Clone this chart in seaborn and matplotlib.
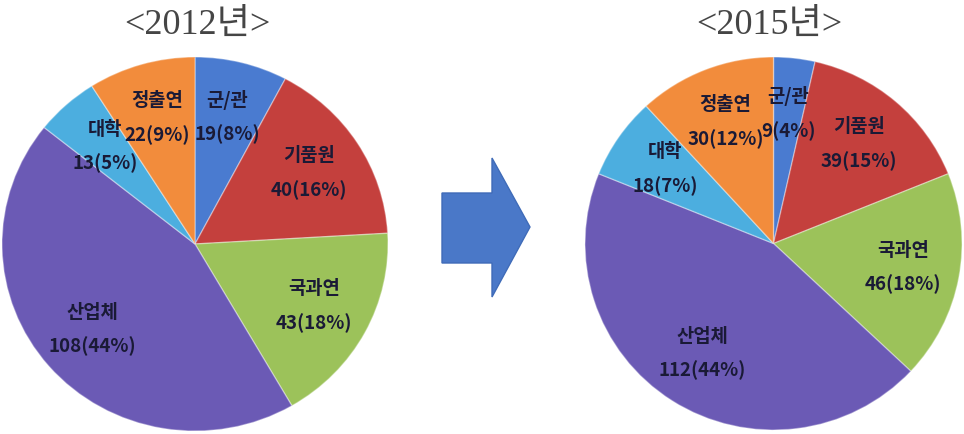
import matplotlib
matplotlib.use("Agg")
import matplotlib.pyplot as plt
import seaborn as sns
import numpy as np
from matplotlib.patches import Polygon

sns.set_theme(style="white")
plt.rcParams['font.family'] = ['Noto Sans CJK KR', 'DejaVu Sans']

categories = ["군/관", "기품원", "국과연", "산업체", "대학", "정출연"]
values_2012 = [19, 40, 43, 108, 13, 22]
values_2015 = [9, 39, 46, 112, 18, 30]
titles = ["<2012년>", "<2015년>"]
colors = ["#4A7BD0", "#C4403D", "#9CC25A", "#6B5AB5", "#4CAEDF", "#F28C3C"]

fig = plt.figure(figsize=(9.64, 4.34), dpi=100)
W, H = 964, 434

def px_axes(x0, y0, x1, y1):
    return fig.add_axes([x0 / W, 1 - y1 / H, (x1 - x0) / W, (y1 - y0) / H])

axes = [px_axes(2, 57, 388, 431), px_axes(585, 57, 962, 430)]
title_x = [197, 769]

for ax, vals, title, tx in zip(axes, [values_2012, values_2015], titles, title_x):
    total = sum(vals)
    labels = [f"{c}\n{v}({round(v / total * 100)}%)" for c, v in zip(categories, vals)]
    wedges, texts = ax.pie(vals, colors=colors, startangle=90, counterclock=False,
                           labels=labels, labeldistance=0.7, radius=1,
                           wedgeprops=dict(edgecolor=(1, 1, 1, 0.35), linewidth=1.0),
                           textprops=dict(fontsize=13.5, fontweight='bold', color='#1a1a36'))
    for t in texts:
        t.set_ha('center')
        t.set_va('center')
        t.set_linespacing(1.95)
    ax.set_aspect('auto')
    ax.set_xlim(-1, 1)
    ax.set_ylim(-1, 1)
    ax.axis('off')
    fig.text(tx / W, 1 - 25 / H, title, ha='center', va='center', fontsize=26,
             color='#454545', family=['Liberation Serif', 'Noto Sans CJK KR'])

arrow_px = [(442, 193), (492, 193), (492, 158), (530, 227), (492, 297), (492, 263), (442, 263)]
arrow = Polygon([(x / W, 1 - y / H) for x, y in arrow_px], closed=True,
                transform=fig.transFigure, facecolor="#4A78C8", edgecolor="#3F6BB8", linewidth=1)
fig.patches.append(arrow)

fig.savefig("out.png", dpi=100, facecolor="white")
